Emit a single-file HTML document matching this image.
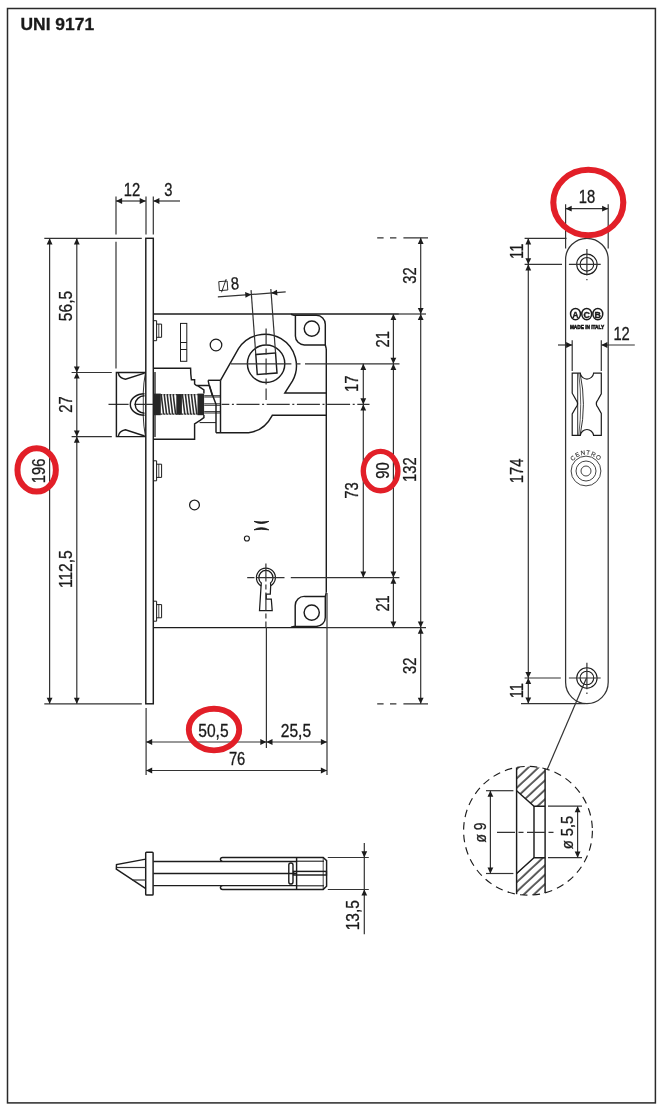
<!DOCTYPE html>
<html lang="it">
<head>
<meta charset="utf-8">
<title>UNI 9171</title>
<style>
html,body{margin:0;padding:0;background:#fff;}
body{width:661px;height:1110px;overflow:hidden;}
svg{display:block;font-family:"Liberation Sans",sans-serif;will-change:transform;}
svg text{fill:#1a1a1a;stroke:#1a1a1a;stroke-width:0.3px;}
</style>
</head>
<body>
<svg width="661" height="1110" viewBox="0 0 661 1110">
<rect x="0" y="0" width="661" height="1110" fill="#fff"/>
<rect x="7.5" y="8.5" width="647.90" height="1094.40" fill="none" stroke="#2a2a2a" stroke-width="1.5"/>
<text transform="translate(20.5,29.7) scale(1.045,1)" font-size="16.7" font-weight="bold" fill="#111">UNI 9171</text>
<rect x="145.80" y="238.30" width="7.50" height="465.50" rx="0" stroke="#1c1c1c" stroke-width="1.45" fill="none"/>
<line x1="153.30" y1="314.00" x2="398.50" y2="314.00" stroke="#1c1c1c" stroke-width="1.45"/>
<line x1="398.00" y1="314.00" x2="426.00" y2="314.00" stroke="#333" stroke-width="1.2"/>
<line x1="153.30" y1="627.60" x2="326.50" y2="627.60" stroke="#1c1c1c" stroke-width="1.25"/>
<line x1="326.00" y1="627.60" x2="426.00" y2="627.60" stroke="#333" stroke-width="1.2"/>
<line x1="326.30" y1="349.00" x2="326.30" y2="592.60" stroke="#1c1c1c" stroke-width="1.45"/>
<path d="M291 314.2 L294 315.3 L316.3 315.3 A9 9 0 0 1 325.3 324.3 L325.3 344.9 L304.5 344.9 A9 9 0 0 1 295.4 335.9 L295.4 315.3" stroke="#1c1c1c" stroke-width="1.45" fill="none" />
<path d="M325.3 344.9 L326.3 349" stroke="#1c1c1c" stroke-width="1.45" fill="none" />
<circle cx="311.80" cy="328.60" r="7.60" stroke="#1c1c1c" stroke-width="1.45" fill="none"/>
<path d="M291 627.3 L294 626.4 L316.3 626.4 A9 9 0 0 0 325.3 617.4 L325.3 596.4 L304.5 596.4 A9 9 0 0 0 295.2 605.4 L295.2 626.4" stroke="#1c1c1c" stroke-width="1.45" fill="none" />
<path d="M325.3 596.4 L326.3 592.6" stroke="#1c1c1c" stroke-width="1.45" fill="none" />
<circle cx="311.70" cy="612.60" r="7.60" stroke="#1c1c1c" stroke-width="1.45" fill="none"/>
<path d="M153.3 320.7 L156.6 320.7 L156.6 340.7 L153.3 340.7" stroke="#1c1c1c" stroke-width="1.0" fill="none" />
<path d="M156.6 324.09999999999997 L161.6 324.09999999999997 L161.6 337.3 L156.6 337.3" stroke="#1c1c1c" stroke-width="1.0" fill="none" />
<line x1="158.80" y1="324.10" x2="158.80" y2="337.30" stroke="#1c1c1c" stroke-width="0.8"/>
<path d="M153.3 460.8 L156.6 460.8 L156.6 480.8 L153.3 480.8" stroke="#1c1c1c" stroke-width="1.0" fill="none" />
<path d="M156.6 464.2 L161.6 464.2 L161.6 477.40000000000003 L156.6 477.40000000000003" stroke="#1c1c1c" stroke-width="1.0" fill="none" />
<line x1="158.80" y1="464.20" x2="158.80" y2="477.40" stroke="#1c1c1c" stroke-width="0.8"/>
<path d="M153.3 601.2 L156.6 601.2 L156.6 621.2 L153.3 621.2" stroke="#1c1c1c" stroke-width="1.0" fill="none" />
<path d="M156.6 604.6 L161.6 604.6 L161.6 617.8000000000001 L156.6 617.8000000000001" stroke="#1c1c1c" stroke-width="1.0" fill="none" />
<line x1="158.80" y1="604.60" x2="158.80" y2="617.80" stroke="#1c1c1c" stroke-width="0.8"/>
<rect x="180.50" y="323.40" width="6.30" height="37.90" rx="0" stroke="#1c1c1c" stroke-width="1.0" fill="none"/>
<line x1="180.50" y1="342.50" x2="186.80" y2="342.50" stroke="#1c1c1c" stroke-width="1.0"/>
<line x1="180.50" y1="349.50" x2="186.80" y2="349.50" stroke="#1c1c1c" stroke-width="1.0"/>
<circle cx="216.00" cy="345.00" r="5.80" stroke="#1c1c1c" stroke-width="1.25" fill="none"/>
<circle cx="194.50" cy="504.90" r="4.90" stroke="#1c1c1c" stroke-width="1.25" fill="none"/>
<circle cx="246.90" cy="538.50" r="2.50" stroke="#1c1c1c" stroke-width="1.15" fill="none"/>
<path d="M254 521.4 Q261.4 525.6 268.8 521.4 Q261.4 522.6 254 521.4 Z" stroke="#1c1c1c" stroke-width="0.9" fill="#1c1c1c" />
<path d="M254 529.8 Q261.4 525.6 268.8 529.8 Q261.4 528.6 254 529.8 Z" stroke="#1c1c1c" stroke-width="0.9" fill="#1c1c1c" />
<path d="M153.3 368.3 L190.6 368.3 L190.8 374 L191.4 379.8 L194.6 379.8 L194.6 384 L196.4 385.5 L209.2 385.5" stroke="#1c1c1c" stroke-width="1.45" fill="none" />
<path d="M197.6 385.7 L203.9 390 L203.9 393.6" stroke="#1c1c1c" stroke-width="1.45" fill="none" />
<path d="M203.9 415 L203.9 417.6 L200.1 420.4 L194.6 424 L194.6 439.3 L153.3 439.3" stroke="#1c1c1c" stroke-width="1.45" fill="none" />
<line x1="155.00" y1="372.00" x2="155.00" y2="437.00" stroke="#1c1c1c" stroke-width="1.3"/>
<line x1="199.60" y1="422.60" x2="216.00" y2="422.60" stroke="#1c1c1c" stroke-width="1.0"/>
<rect x="153.4" y="393.6" width="7.4" height="21.60" fill="#262626"/>
<rect x="176.3" y="394.1" width="5.6" height="20.60" fill="#262626"/>
<rect x="197.5" y="393.6" width="6.6" height="21.60" fill="#262626"/>
<line x1="161.20" y1="394.40" x2="163.60" y2="414.40" stroke="#2c2c2c" stroke-width="1.55"/>
<line x1="164.20" y1="394.40" x2="166.60" y2="414.40" stroke="#2c2c2c" stroke-width="1.55"/>
<line x1="167.20" y1="394.40" x2="169.60" y2="414.40" stroke="#2c2c2c" stroke-width="1.55"/>
<line x1="170.20" y1="394.40" x2="172.60" y2="414.40" stroke="#2c2c2c" stroke-width="1.55"/>
<line x1="173.20" y1="394.40" x2="175.60" y2="414.40" stroke="#2c2c2c" stroke-width="1.55"/>
<line x1="182.40" y1="394.40" x2="184.80" y2="414.40" stroke="#2c2c2c" stroke-width="1.55"/>
<line x1="185.40" y1="394.40" x2="187.80" y2="414.40" stroke="#2c2c2c" stroke-width="1.55"/>
<line x1="188.40" y1="394.40" x2="190.80" y2="414.40" stroke="#2c2c2c" stroke-width="1.55"/>
<line x1="191.40" y1="394.40" x2="193.80" y2="414.40" stroke="#2c2c2c" stroke-width="1.55"/>
<line x1="194.40" y1="394.40" x2="196.80" y2="414.40" stroke="#2c2c2c" stroke-width="1.55"/>
<line x1="160.60" y1="394.60" x2="197.70" y2="394.60" stroke="#2c2c2c" stroke-width="1.3" stroke-dasharray="1.8 1.2"/>
<line x1="160.60" y1="414.20" x2="197.70" y2="414.20" stroke="#2c2c2c" stroke-width="1.3" stroke-dasharray="1.8 1.2"/>
<line x1="204.20" y1="395.70" x2="220.30" y2="395.70" stroke="#1c1c1c" stroke-width="0.9"/>
<line x1="204.20" y1="397.00" x2="220.30" y2="397.00" stroke="#1c1c1c" stroke-width="0.9"/>
<line x1="204.20" y1="403.80" x2="220.30" y2="403.80" stroke="#1c1c1c" stroke-width="0.9"/>
<line x1="204.20" y1="405.30" x2="220.30" y2="405.30" stroke="#1c1c1c" stroke-width="0.9"/>
<line x1="204.20" y1="411.60" x2="220.30" y2="411.60" stroke="#1c1c1c" stroke-width="0.9"/>
<line x1="204.20" y1="413.00" x2="220.30" y2="413.00" stroke="#1c1c1c" stroke-width="0.9"/>
<path d="M208.1 380.3 L220.5 380.3" stroke="#1c1c1c" stroke-width="1.45" fill="none" />
<path d="M208.1 380.3 L209.2 385.3 L212.3 395.6" stroke="#1c1c1c" stroke-width="1.45" fill="none" />
<path d="M209.4 385.5 Q212.6 396 216 404.2 L216 432.7" stroke="#1c1c1c" stroke-width="1.45" fill="none" />
<line x1="220.50" y1="380.30" x2="220.50" y2="432.70" stroke="#1c1c1c" stroke-width="1.45"/>
<path d="M220.5 380.3 L238.47 348.67 A31.5 31.5 0 0 1 292.52 380.96 L284.8 393 L326.3 393" stroke="#1c1c1c" stroke-width="1.45" fill="none" />
<path d="M216 432.7 L248.5 432.7 Q264 431 272.3 415.3 L326.3 415.3" stroke="#1c1c1c" stroke-width="1.45" fill="none" />
<circle cx="266.10" cy="363.80" r="18.70" stroke="#1c1c1c" stroke-width="1.45" fill="none"/>
<g transform="translate(266.1 363.8) rotate(-4.2)">
<rect x="-9.6" y="-10" width="19.8" height="20" fill="none" stroke="#1c1c1c" stroke-width="1.45"/>
<line x1="-9.60" y1="-10.00" x2="-9.60" y2="-74.60" stroke="#333" stroke-width="1.2"/>
<line x1="10.20" y1="-10.00" x2="10.20" y2="-74.20" stroke="#333" stroke-width="1.2"/>
<line x1="-43.20" y1="-70.20" x2="24.80" y2="-70.20" stroke="#333" stroke-width="1.2"/>
<polygon points="-9.60,-70.20 -15.70,-73.10 -15.70,-67.30" fill="#1c1c1c"/>
<polygon points="10.20,-70.20 16.30,-73.10 16.30,-67.30" fill="#1c1c1c"/>
<rect x="-41.2" y="-85.4" width="8.4" height="9" fill="none" stroke="#1c1c1c" stroke-width="0.9"/>
<line x1="-39.20" y1="-74.60" x2="-33.60" y2="-87.40" stroke="#1c1c1c" stroke-width="0.9"/>
<text transform="translate(-25.20,-76.30) scale(0.84,1)" text-anchor="middle" font-size="17.6" font-weight="normal">8</text>
</g>
<line x1="230.80" y1="363.80" x2="399.50" y2="363.80" stroke="#333" stroke-width="1.2" stroke-dasharray="60.6 4.6 4.5 4.5 200 0"/>
<line x1="266.10" y1="328.50" x2="266.10" y2="400.00" stroke="#333" stroke-width="1.2" stroke-dasharray="16 4 6 4"/>
<line x1="108.50" y1="404.40" x2="153.00" y2="404.40" stroke="#333" stroke-width="1.2" stroke-dasharray="20.1 5.9 30 0"/>
<line x1="221.6" y1="404.4" x2="369.5" y2="404.4" stroke="#333" stroke-width="1.2" stroke-dasharray="23 2.6 2 2.6" stroke-dashoffset="15.3"/>
<path d="M145.8 372.5 L116.4 372.5 L116.4 436.6 L145.8 436.6" stroke="#1c1c1c" stroke-width="1.45" fill="none" />
<path d="M118.3 372.9 Q119 378.0 125.5 379.3 L144.6 373.1" stroke="#1c1c1c" stroke-width="1.45" fill="none" />
<path d="M118.3 436.20000000000005 Q119 431.1 125.5 429.8 L144.6 436.0" stroke="#1c1c1c" stroke-width="1.45" fill="none" />
<path d="M145.4 373.1 Q143.6 382.5 143.2 393.6" stroke="#1c1c1c" stroke-width="0.9" fill="none" />
<path d="M145.4 436.0 Q143.6 426.6 143.2 415.4" stroke="#1c1c1c" stroke-width="0.9" fill="none" />
<path d="M144.5 393.8 A14.2 10.7 0 0 0 144.5 415.2" stroke="#1c1c1c" stroke-width="1.45" fill="none" />
<path d="M144.5 395.8 A9.3 8.7 0 0 0 144.5 413.2" stroke="#1c1c1c" stroke-width="1.45" fill="none" />
<line x1="143.30" y1="393.60" x2="143.30" y2="415.40" stroke="#1c1c1c" stroke-width="0.8"/>
<path d="M261.20 585.86 A9.5 9.5 0 1 1 270.70 585.80" stroke="#1c1c1c" stroke-width="1.2" fill="none" />
<path d="M261.30 583.00 A7.1 7.1 0 1 1 270.50 583.00 L270.70 585.60 L270.30 594.00 L266.30 594.00 L266.30 599.00 L271.30 599.00 L272.20 610.60 L259.50 610.60 L261.10 585.60 Z" stroke="#1c1c1c" stroke-width="1.25" fill="none" />
<line x1="247.20" y1="577.60" x2="399.40" y2="577.60" stroke="#333" stroke-width="1.2" stroke-dasharray="7.3 2.4 27.6 6.3 400 0"/>
<line x1="265.90" y1="563.50" x2="265.90" y2="627.00" stroke="#333" stroke-width="1.2" stroke-dasharray="18 3 5 3"/>
<line x1="266.40" y1="627.00" x2="266.40" y2="748.00" stroke="#333" stroke-width="1.2"/>
<line x1="116.00" y1="196.50" x2="116.00" y2="234.40" stroke="#333" stroke-width="1.2"/>
<line x1="116.00" y1="241.80" x2="116.00" y2="368.60" stroke="#333" stroke-width="1.2"/>
<line x1="146.00" y1="196.50" x2="146.00" y2="234.40" stroke="#333" stroke-width="1.2"/>
<line x1="153.30" y1="196.50" x2="153.30" y2="234.40" stroke="#333" stroke-width="1.2"/>
<line x1="116.00" y1="201.00" x2="145.80" y2="201.00" stroke="#333" stroke-width="1.2"/>
<line x1="153.30" y1="201.00" x2="180.00" y2="201.00" stroke="#333" stroke-width="1.2"/>
<polygon points="116.00,201.00 122.10,198.10 122.10,203.90" fill="#1c1c1c"/>
<polygon points="145.80,201.00 139.70,198.10 139.70,203.90" fill="#1c1c1c"/>
<polygon points="153.30,201.00 159.40,198.10 159.40,203.90" fill="#1c1c1c"/>
<text transform="translate(131.90,196.40) scale(0.84,1)" text-anchor="middle" font-size="17.6" font-weight="normal">12</text>
<text transform="translate(168.40,196.40) scale(0.84,1)" text-anchor="middle" font-size="17.6" font-weight="normal">3</text>
<line x1="44.30" y1="238.30" x2="141.80" y2="238.30" stroke="#333" stroke-width="1.2"/>
<line x1="44.30" y1="703.80" x2="141.80" y2="703.80" stroke="#333" stroke-width="1.2"/>
<line x1="49.60" y1="238.30" x2="49.60" y2="703.80" stroke="#333" stroke-width="1.2"/>
<polygon points="49.60,238.30 46.70,244.40 52.50,244.40" fill="#1c1c1c"/>
<polygon points="49.60,703.80 46.70,697.70 52.50,697.70" fill="#1c1c1c"/>
<line x1="76.80" y1="238.30" x2="76.80" y2="372.50" stroke="#333" stroke-width="1.2"/>
<polygon points="76.80,238.30 73.90,244.40 79.70,244.40" fill="#1c1c1c"/>
<polygon points="76.80,372.50 73.90,366.40 79.70,366.40" fill="#1c1c1c"/>
<line x1="76.80" y1="372.50" x2="76.80" y2="436.60" stroke="#333" stroke-width="1.2"/>
<polygon points="76.80,372.50 73.90,378.60 79.70,378.60" fill="#1c1c1c"/>
<polygon points="76.80,436.60 73.90,430.50 79.70,430.50" fill="#1c1c1c"/>
<line x1="76.80" y1="436.60" x2="76.80" y2="703.80" stroke="#333" stroke-width="1.2"/>
<polygon points="76.80,436.60 73.90,442.70 79.70,442.70" fill="#1c1c1c"/>
<polygon points="76.80,703.80 73.90,697.70 79.70,697.70" fill="#1c1c1c"/>
<line x1="71.60" y1="372.50" x2="111.80" y2="372.50" stroke="#333" stroke-width="1.2"/>
<line x1="71.60" y1="436.60" x2="111.80" y2="436.60" stroke="#333" stroke-width="1.2"/>
<text transform="translate(72.00,306.00) rotate(-90) scale(0.8861999999999999,1)" text-anchor="middle" font-size="17.6">56,5</text>
<text transform="translate(72.00,404.50) rotate(-90) scale(0.84,1)" text-anchor="middle" font-size="17.6">27</text>
<text transform="translate(72.00,569.20) rotate(-90) scale(0.8861999999999999,1)" text-anchor="middle" font-size="17.6">112,5</text>
<text transform="translate(45.00,470.80) rotate(-90) scale(0.84,1)" text-anchor="middle" font-size="17.6">196</text>
<ellipse cx="36.65" cy="469.90" rx="19.20" ry="21.70" stroke="#e21f28" stroke-width="6.0" fill="none"/>
<line x1="377.20" y1="237.80" x2="428.00" y2="237.80" stroke="#333" stroke-width="1.2" stroke-dasharray="6.4 6.4 6.4 7 26 0"/>
<line x1="377.20" y1="703.80" x2="428.00" y2="703.80" stroke="#333" stroke-width="1.2" stroke-dasharray="6.4 6.4 6.4 7 26 0"/>
<line x1="420.70" y1="237.80" x2="420.70" y2="314.00" stroke="#333" stroke-width="1.2"/>
<polygon points="420.70,237.80 417.80,243.90 423.60,243.90" fill="#1c1c1c"/>
<polygon points="420.70,314.00 417.80,307.90 423.60,307.90" fill="#1c1c1c"/>
<line x1="420.70" y1="314.00" x2="420.70" y2="627.60" stroke="#333" stroke-width="1.2"/>
<polygon points="420.70,314.00 417.80,320.10 423.60,320.10" fill="#1c1c1c"/>
<polygon points="420.70,627.60 417.80,621.50 423.60,621.50" fill="#1c1c1c"/>
<line x1="420.70" y1="627.60" x2="420.70" y2="703.80" stroke="#333" stroke-width="1.2"/>
<polygon points="420.70,627.60 417.80,633.70 423.60,633.70" fill="#1c1c1c"/>
<polygon points="420.70,703.80 417.80,697.70 423.60,697.70" fill="#1c1c1c"/>
<line x1="393.40" y1="314.00" x2="393.40" y2="363.80" stroke="#333" stroke-width="1.2"/>
<polygon points="393.40,314.00 390.50,320.10 396.30,320.10" fill="#1c1c1c"/>
<polygon points="393.40,363.80 390.50,357.70 396.30,357.70" fill="#1c1c1c"/>
<line x1="393.40" y1="363.80" x2="393.40" y2="577.60" stroke="#333" stroke-width="1.2"/>
<polygon points="393.40,363.80 390.50,369.90 396.30,369.90" fill="#1c1c1c"/>
<polygon points="393.40,577.60 390.50,571.50 396.30,571.50" fill="#1c1c1c"/>
<line x1="393.40" y1="577.60" x2="393.40" y2="627.60" stroke="#333" stroke-width="1.2"/>
<polygon points="393.40,577.60 390.50,583.70 396.30,583.70" fill="#1c1c1c"/>
<polygon points="393.40,627.60 390.50,621.50 396.30,621.50" fill="#1c1c1c"/>
<line x1="363.30" y1="363.80" x2="363.30" y2="404.40" stroke="#333" stroke-width="1.2"/>
<polygon points="363.30,363.80 360.40,369.90 366.20,369.90" fill="#1c1c1c"/>
<polygon points="363.30,404.40 360.40,398.30 366.20,398.30" fill="#1c1c1c"/>
<line x1="363.30" y1="404.40" x2="363.30" y2="577.60" stroke="#333" stroke-width="1.2"/>
<polygon points="363.30,404.40 360.40,410.50 366.20,410.50" fill="#1c1c1c"/>
<polygon points="363.30,577.60 360.40,571.50 366.20,571.50" fill="#1c1c1c"/>
<text transform="translate(415.50,275.60) rotate(-90) scale(0.84,1)" text-anchor="middle" font-size="17.6">32</text>
<text transform="translate(415.50,665.70) rotate(-90) scale(0.84,1)" text-anchor="middle" font-size="17.6">32</text>
<text transform="translate(415.60,469.60) rotate(-90) scale(0.84,1)" text-anchor="middle" font-size="17.6">132</text>
<text transform="translate(388.90,339.20) rotate(-90) scale(0.84,1)" text-anchor="middle" font-size="17.6">21</text>
<text transform="translate(389.00,603.40) rotate(-90) scale(0.84,1)" text-anchor="middle" font-size="17.6">21</text>
<text transform="translate(389.00,470.50) rotate(-90) scale(0.84,1)" text-anchor="middle" font-size="17.6">90</text>
<text transform="translate(358.20,383.70) rotate(-90) scale(0.84,1)" text-anchor="middle" font-size="17.6">17</text>
<text transform="translate(358.40,490.60) rotate(-90) scale(0.84,1)" text-anchor="middle" font-size="17.6">73</text>
<ellipse cx="380.60" cy="471.10" rx="17.30" ry="19.70" stroke="#e21f28" stroke-width="5.4" fill="none"/>
<line x1="146.10" y1="708.00" x2="146.10" y2="775.00" stroke="#333" stroke-width="1.2"/>
<line x1="327.00" y1="593.00" x2="327.00" y2="775.00" stroke="#333" stroke-width="1.2"/>
<line x1="146.10" y1="742.00" x2="266.40" y2="742.00" stroke="#333" stroke-width="1.2"/>
<polygon points="146.10,742.00 152.20,739.10 152.20,744.90" fill="#1c1c1c"/>
<polygon points="266.40,742.00 260.30,739.10 260.30,744.90" fill="#1c1c1c"/>
<line x1="266.40" y1="742.00" x2="327.00" y2="742.00" stroke="#333" stroke-width="1.2"/>
<polygon points="266.40,742.00 272.50,739.10 272.50,744.90" fill="#1c1c1c"/>
<polygon points="327.00,742.00 320.90,739.10 320.90,744.90" fill="#1c1c1c"/>
<line x1="146.10" y1="770.50" x2="327.00" y2="770.50" stroke="#333" stroke-width="1.2"/>
<polygon points="146.10,770.50 152.20,767.60 152.20,773.40" fill="#1c1c1c"/>
<polygon points="327.00,770.50 320.90,767.60 320.90,773.40" fill="#1c1c1c"/>
<text transform="translate(213.40,737.20) scale(0.8861999999999999,1)" text-anchor="middle" font-size="17.6" font-weight="normal">50,5</text>
<text transform="translate(295.90,737.20) scale(0.8861999999999999,1)" text-anchor="middle" font-size="17.6" font-weight="normal">25,5</text>
<text transform="translate(237.10,765.30) scale(0.84,1)" text-anchor="middle" font-size="17.6" font-weight="normal">76</text>
<ellipse cx="214.00" cy="729.60" rx="25.20" ry="20.80" stroke="#e21f28" stroke-width="5.9" fill="none"/>
<path d="M565.6 259.60 A21.30 21.30 0 0 1 608.2 259.60 L608.2 682.30 A21.30 21.30 0 0 1 565.6 682.30 Z" stroke="#333" stroke-width="1.25" fill="none" />
<circle cx="586.90" cy="264.30" r="10.20" stroke="#1c1c1c" stroke-width="1.1" fill="none"/>
<circle cx="586.90" cy="264.30" r="6.80" stroke="#1c1c1c" stroke-width="1.1" fill="none"/>
<line x1="586.90" y1="249.10" x2="586.90" y2="275.50" stroke="#333" stroke-width="1.2"/>
<line x1="586.90" y1="278.90" x2="586.90" y2="280.30" stroke="#333" stroke-width="1.2"/>
<line x1="568.90" y1="264.30" x2="600.70" y2="264.30" stroke="#333" stroke-width="1.2"/>
<circle cx="586.90" cy="678.00" r="10.20" stroke="#1c1c1c" stroke-width="1.1" fill="none"/>
<circle cx="586.90" cy="678.00" r="6.80" stroke="#1c1c1c" stroke-width="1.1" fill="none"/>
<line x1="586.90" y1="662.80" x2="586.90" y2="689.20" stroke="#333" stroke-width="1.2"/>
<line x1="586.90" y1="692.60" x2="586.90" y2="694.00" stroke="#333" stroke-width="1.2"/>
<line x1="568.90" y1="678.00" x2="600.70" y2="678.00" stroke="#333" stroke-width="1.2"/>
<ellipse cx="575.5" cy="314.1" rx="4.95" ry="5.7" fill="none" stroke="#1c1c1c" stroke-width="1.5"/>
<text transform="translate(575.5,317.50) scale(0.95,1)" text-anchor="middle" font-size="9.3" font-weight="bold" style="stroke-width:0.4px">A</text>
<ellipse cx="586.7" cy="314.1" rx="4.95" ry="5.7" fill="none" stroke="#1c1c1c" stroke-width="1.5"/>
<text transform="translate(586.7,317.50) scale(0.95,1)" text-anchor="middle" font-size="9.3" font-weight="bold" style="stroke-width:0.4px">C</text>
<ellipse cx="597.8" cy="314.1" rx="4.95" ry="5.7" fill="none" stroke="#1c1c1c" stroke-width="1.5"/>
<text transform="translate(597.8,317.50) scale(0.95,1)" text-anchor="middle" font-size="9.3" font-weight="bold" style="stroke-width:0.4px">B</text>
<text transform="translate(587.00,329.0) scale(0.915,1)" text-anchor="middle" font-size="5.2" font-weight="bold" style="stroke-width:0.55px">MADE IN ITALY</text>
<line x1="572.20" y1="340.30" x2="572.20" y2="371.00" stroke="#333" stroke-width="1.2"/>
<line x1="601.30" y1="340.30" x2="601.30" y2="371.00" stroke="#333" stroke-width="1.2"/>
<line x1="558.00" y1="345.00" x2="572.20" y2="345.00" stroke="#333" stroke-width="1.2"/>
<line x1="601.30" y1="345.00" x2="634.80" y2="345.00" stroke="#333" stroke-width="1.2"/>
<polygon points="572.20,345.00 566.10,342.10 566.10,347.90" fill="#1c1c1c"/>
<polygon points="601.30,345.00 607.40,342.10 607.40,347.90" fill="#1c1c1c"/>
<text transform="translate(621.60,339.90) scale(0.84,1)" text-anchor="middle" font-size="17.6" font-weight="normal">12</text>
<path d="M572.2 373.2 L580.3 373.2 A6.7 6.7 0 0 0 593.6 373.2 L601.3 373.2 L601.3 393.8 L597.9 399.8 A6 6 0 0 0 597.9 407.40000000000003 L601.3 413.40000000000003 L601.3 435.4 L593.6 435.4 A6.7 6.7 0 0 0 580.3 435.4 L572.2 435.4 L572.2 414.0 L576.0 407.40000000000003 A6 6 0 0 0 576.0 399.8 L572.2 393.20000000000005 Z" stroke="#1c1c1c" stroke-width="1.2" fill="none" />
<line x1="577.70" y1="373.20" x2="577.70" y2="435.40" stroke="#1c1c1c" stroke-width="0.9"/>
<path d="M580.2 373.7 Q586.6 404.29999999999995 580.2 434.9" stroke="#1c1c1c" stroke-width="0.9" fill="none" />
<path d="M578.8 373.7 Q582.6 404.29999999999995 578.8 434.9" stroke="#1c1c1c" stroke-width="0.7" fill="none" />
<circle cx="586.00" cy="471.00" r="14.90" stroke="#444" stroke-width="1.0" fill="none"/>
<circle cx="586.00" cy="471.00" r="10.00" stroke="#444" stroke-width="1.0" fill="none"/>
<circle cx="586.00" cy="471.00" r="5.00" stroke="#444" stroke-width="1.0" fill="none"/>
<path id="carc" d="M569.70 471.00 A16.3 16.3 0 0 1 602.30 471.00" fill="none" stroke="none"/>
<text font-size="6.2" letter-spacing="0.7" text-anchor="middle" style="fill:#444;stroke-width:0.12px"><textPath href="#carc" startOffset="50%">CENTRO</textPath></text>
<line x1="565.60" y1="204.30" x2="565.60" y2="248.60" stroke="#333" stroke-width="1.2"/>
<line x1="608.20" y1="204.30" x2="608.20" y2="248.60" stroke="#333" stroke-width="1.2"/>
<line x1="565.60" y1="208.70" x2="608.20" y2="208.70" stroke="#333" stroke-width="1.2"/>
<polygon points="565.60,208.70 571.70,205.80 571.70,211.60" fill="#1c1c1c"/>
<polygon points="608.20,208.70 602.10,205.80 602.10,211.60" fill="#1c1c1c"/>
<text transform="translate(586.90,202.70) scale(0.84,1)" text-anchor="middle" font-size="17.6" font-weight="normal">18</text>
<ellipse cx="588.30" cy="202.50" rx="35.00" ry="32.70" stroke="#e21f28" stroke-width="6.1" fill="none"/>
<line x1="524.60" y1="238.30" x2="566.50" y2="238.30" stroke="#333" stroke-width="1.2"/>
<line x1="524.60" y1="264.30" x2="562.00" y2="264.30" stroke="#333" stroke-width="1.2"/>
<line x1="524.60" y1="678.00" x2="560.80" y2="678.00" stroke="#333" stroke-width="1.2"/>
<line x1="521.00" y1="703.60" x2="585.40" y2="703.60" stroke="#333" stroke-width="1.2"/>
<line x1="528.30" y1="238.30" x2="528.30" y2="264.30" stroke="#333" stroke-width="1.2"/>
<polygon points="528.30,238.30 525.40,244.40 531.20,244.40" fill="#1c1c1c"/>
<polygon points="528.30,264.30 525.40,258.20 531.20,258.20" fill="#1c1c1c"/>
<line x1="528.30" y1="264.30" x2="528.30" y2="678.00" stroke="#333" stroke-width="1.2"/>
<polygon points="528.30,264.30 525.40,270.40 531.20,270.40" fill="#1c1c1c"/>
<polygon points="528.30,678.00 525.40,671.90 531.20,671.90" fill="#1c1c1c"/>
<line x1="528.30" y1="678.00" x2="528.30" y2="703.60" stroke="#333" stroke-width="1.2"/>
<polygon points="528.30,678.00 525.40,684.10 531.20,684.10" fill="#1c1c1c"/>
<polygon points="528.30,703.60 525.40,697.50 531.20,697.50" fill="#1c1c1c"/>
<text transform="translate(522.60,251.30) rotate(-90) scale(0.84,1)" text-anchor="middle" font-size="17.6">11</text>
<text transform="translate(522.60,690.70) rotate(-90) scale(0.84,1)" text-anchor="middle" font-size="17.6">11</text>
<text transform="translate(522.60,470.80) rotate(-90) scale(0.84,1)" text-anchor="middle" font-size="17.6">174</text>
<line x1="586.50" y1="678.00" x2="547.00" y2="770.00" stroke="#333" stroke-width="1.2"/>
<circle cx="528.00" cy="830.80" r="64.40" stroke="#1c1c1c" stroke-width="1.15" fill="none" stroke-dasharray="7.5 5.2"/>
<defs><pattern id="hat" patternUnits="userSpaceOnUse" width="6.9" height="6.9" patternTransform="rotate(47)"><line x1="4.0" y1="-1" x2="4.0" y2="8" stroke="#111" stroke-width="1.35"/></pattern></defs>
<path d="M516.6 767.42 A64.4 64.4 0 0 1 545.1 768.71 L545.1 806.2 L534 806.2 L516.6 790.7 Z" fill="url(#hat)" stroke="none"/>
<path d="M516.6 894.18 A64.4 64.4 0 0 0 545.1 892.89 L545.1 857.7 L534 857.7 L516.6 873.5 Z" fill="url(#hat)" stroke="none"/>
<path d="M545.1 806.2 L534 806.2 L516.6 790.7" stroke="#1c1c1c" stroke-width="1.45" fill="none" />
<path d="M545.1 857.7 L534 857.7 L516.6 873.5" stroke="#1c1c1c" stroke-width="1.45" fill="none" />
<line x1="516.60" y1="767.42" x2="516.60" y2="894.18" stroke="#1c1c1c" stroke-width="1.45"/>
<line x1="545.10" y1="768.71" x2="545.10" y2="892.89" stroke="#1c1c1c" stroke-width="1.45"/>
<line x1="534.00" y1="806.20" x2="534.00" y2="857.70" stroke="#1c1c1c" stroke-width="1.45"/>
<line x1="497.00" y1="832.30" x2="556.00" y2="832.30" stroke="#333" stroke-width="1.2" stroke-dasharray="18 3.5 5 3.5"/>
<line x1="486.00" y1="790.70" x2="513.40" y2="790.70" stroke="#333" stroke-width="1.2"/>
<line x1="486.00" y1="873.50" x2="513.40" y2="873.50" stroke="#333" stroke-width="1.2"/>
<line x1="490.40" y1="790.70" x2="490.40" y2="873.50" stroke="#333" stroke-width="1.2"/>
<polygon points="490.40,790.70 487.50,796.80 493.30,796.80" fill="#1c1c1c"/>
<polygon points="490.40,873.50 487.50,867.40 493.30,867.40" fill="#1c1c1c"/>
<line x1="548.00" y1="806.20" x2="582.00" y2="806.20" stroke="#333" stroke-width="1.2"/>
<line x1="548.00" y1="857.70" x2="582.00" y2="857.70" stroke="#333" stroke-width="1.2"/>
<line x1="577.60" y1="806.20" x2="577.60" y2="857.70" stroke="#333" stroke-width="1.2"/>
<polygon points="577.60,806.20 574.70,812.30 580.50,812.30" fill="#1c1c1c"/>
<polygon points="577.60,857.70 574.70,851.60 580.50,851.60" fill="#1c1c1c"/>
<text transform="translate(485.60,832.50) rotate(-90) scale(0.84,1)" text-anchor="middle" font-size="16.6">ø 9</text>
<text transform="translate(572.80,832.50) rotate(-90) scale(0.8861999999999999,1)" text-anchor="middle" font-size="16.6">ø 5,5</text>
<rect x="145.70" y="852.30" width="7.40" height="42.70" rx="0.8" stroke="#1c1c1c" stroke-width="1.45" fill="none"/>
<path d="M145.8 859.1 L116.5 864.5 L116.3 869.2 L145.8 888.7" stroke="#1c1c1c" stroke-width="1.45" fill="none" />
<line x1="116.80" y1="867.50" x2="145.80" y2="867.50" stroke="#333" stroke-width="1.2"/>
<line x1="132.40" y1="880.00" x2="145.80" y2="880.00" stroke="#333" stroke-width="1.2"/>
<line x1="153.30" y1="861.40" x2="296.60" y2="861.40" stroke="#1c1c1c" stroke-width="1.45"/>
<line x1="153.30" y1="873.50" x2="296.60" y2="873.50" stroke="#1c1c1c" stroke-width="1.45"/>
<line x1="153.30" y1="885.60" x2="296.60" y2="885.60" stroke="#1c1c1c" stroke-width="1.45"/>
<path d="M222.3 861.4 Q220.4 860.7 220.4 859.6 Q220.4 857.4 222.6 857.4 L323.2 857.4 L326.6 860.6 L326.6 886.2 L323.2 889.4 L222.6 889.4 Q220.4 889.4 220.4 887.2 Q220.4 886.1 222.3 885.6" stroke="#1c1c1c" stroke-width="1.45" fill="none" />
<line x1="296.60" y1="857.40" x2="296.60" y2="889.40" stroke="#1c1c1c" stroke-width="1.45"/>
<line x1="296.60" y1="861.20" x2="324.00" y2="861.20" stroke="#1c1c1c" stroke-width="1.1"/>
<line x1="296.60" y1="885.80" x2="324.00" y2="885.80" stroke="#1c1c1c" stroke-width="1.1"/>
<rect x="288.80" y="863.00" width="4.20" height="21.00" rx="2.1" stroke="#1c1c1c" stroke-width="1.4" fill="none"/>
<rect x="293.60" y="871.40" width="32.80" height="3.60" rx="0" stroke="#1c1c1c" stroke-width="1.45" fill="none"/>
<line x1="323.20" y1="857.40" x2="323.20" y2="889.40" stroke="#1c1c1c" stroke-width="0.8"/>
<line x1="327.80" y1="857.50" x2="368.80" y2="857.50" stroke="#333" stroke-width="1.2"/>
<line x1="327.80" y1="889.50" x2="368.80" y2="889.50" stroke="#333" stroke-width="1.2"/>
<line x1="364.30" y1="843.00" x2="364.30" y2="934.20" stroke="#333" stroke-width="1.2"/>
<polygon points="364.30,857.40 361.40,851.30 367.20,851.30" fill="#1c1c1c"/>
<polygon points="364.30,889.40 361.40,895.50 367.20,895.50" fill="#1c1c1c"/>
<text transform="translate(359.40,915.20) rotate(-90) scale(0.8861999999999999,1)" text-anchor="middle" font-size="17.6">13,5</text>
</svg>
</body>
</html>
